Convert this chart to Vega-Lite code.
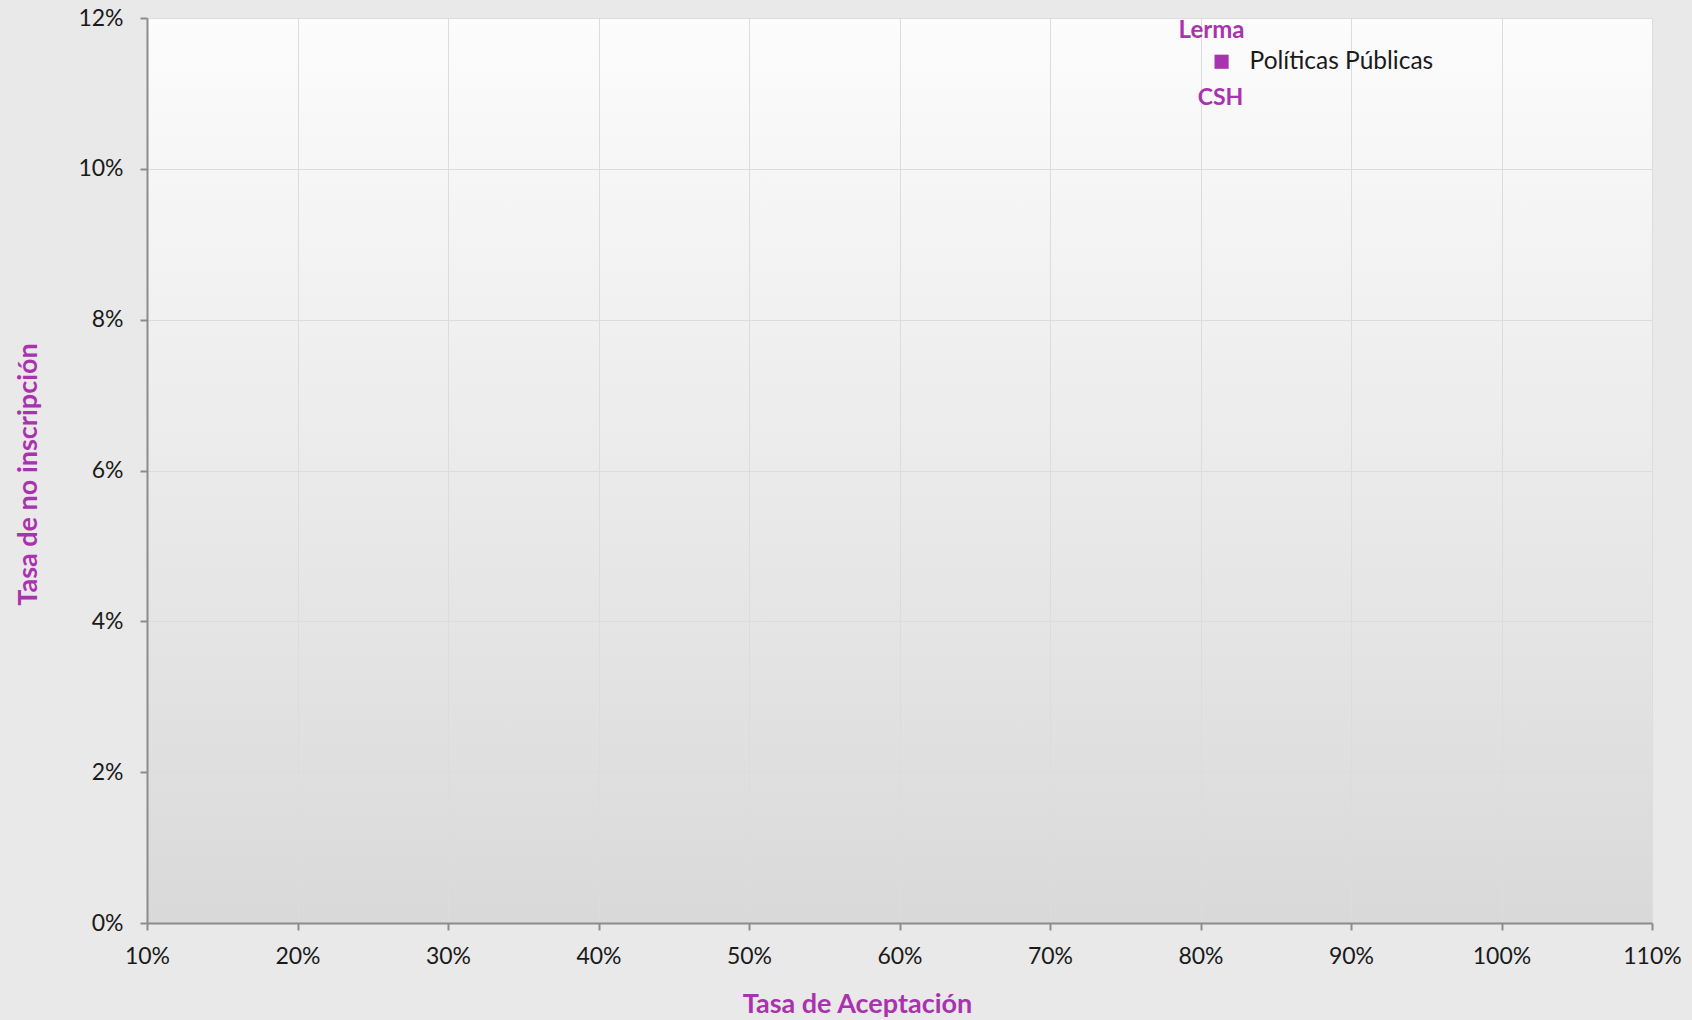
{
  "$schema": "https://vega.github.io/schema/vega-lite/v6.json",
  "autosize": "none",
  "width": 1505,
  "height": 905,
  "padding": {"left": 147, "top": 18, "right": 40, "bottom": 97},
  "background": "#E9E9E9",
  "config": {
    "font": "Lato",
    "view": {
      "stroke": null,
      "fill": {"gradient": "linear", "x1": 0, "y1": 0, "x2": 0, "y2": 1, "stops": [{"offset": 0, "color": "#FCFCFC"}, {"offset": 1, "color": "#D9D9D9"}]}
    },
    "axis": {
      "domainColor": "#8C8C8C",
      "domainWidth": 2,
      "tickColor": "#8C8C8C",
      "tickWidth": 2,
      "tickSize": 7,
      "gridColor": "#DCDCDC",
      "gridWidth": 1,
      "labelFont": "Lato",
      "labelFontSize": 23,
      "labelColor": "#1A1A1A",
      "titleFont": "Lato",
      "titleFontSize": 27,
      "titleFontWeight": "bold",
      "titleColor": "#A933AE"
    }
  },
  "data": {
    "values": [
      {"aceptacion": 0.814, "no_inscripcion": 0.1142, "programa": "Políticas Públicas", "sede": "Lerma", "division": "CSH"}
    ]
  },
  "encoding": {
    "x": {
      "field": "aceptacion", "type": "quantitative",
      "scale": {"domain": [0.1, 1.1], "nice": false, "zero": false},
      "axis": {
        "title": "Tasa de Aceptación",
        "format": ".0%",
        "values": [0.1, 0.2, 0.3, 0.4, 0.5, 0.6, 0.7, 0.8, 0.9, 1.0, 1.1],
        "labelPadding": 15,
        "labelFlush": false,
        "titleX": 710,
        "titleY": 81,
        "titleAlign": "center",
        "titleBaseline": "middle",
        "titleAnchor": null
      }
    },
    "y": {
      "field": "no_inscripcion", "type": "quantitative",
      "scale": {"domain": [0, 0.12], "nice": false},
      "axis": {
        "title": "Tasa de no inscripción",
        "format": ".0%",
        "values": [0, 0.02, 0.04, 0.06, 0.08, 0.1, 0.12],
        "labelPadding": 17,
        "labelFlush": false,
        "titleX": -119,
        "titleY": 456,
        "titleAngle": -90,
        "titleAlign": "center",
        "titleBaseline": "middle"
      }
    }
  },
  "layer": [
    {
      "mark": {"type": "point", "shape": "square", "filled": true, "size": 200, "color": "#A933AE", "opacity": 1}
    },
    {
      "mark": {"type": "text", "align": "left", "baseline": "middle", "dx": 28, "fontSize": 24.5, "color": "#1A1A1A"},
      "encoding": {"text": {"field": "programa"}}
    },
    {
      "mark": {"type": "text", "align": "center", "baseline": "middle", "dx": -10, "dy": -31, "fontSize": 24, "fontWeight": "bold", "color": "#A933AE"},
      "encoding": {"text": {"field": "sede"}}
    },
    {
      "mark": {"type": "text", "align": "center", "baseline": "middle", "dx": -1, "dy": 36, "fontSize": 23, "fontWeight": "bold", "color": "#A933AE"},
      "encoding": {"text": {"field": "division"}}
    }
  ]
}
